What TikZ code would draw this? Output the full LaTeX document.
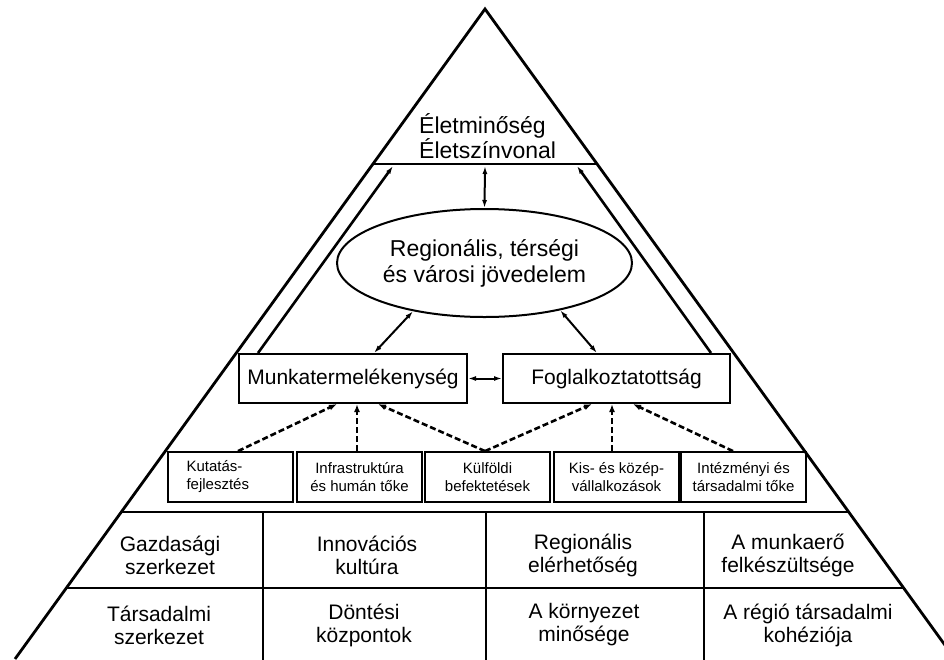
\documentclass[tikz,border=0pt]{standalone}
\usepackage{fontspec}
\setmainfont{Liberation Sans}
\usetikzlibrary{arrows.meta,shapes.geometric}
\begin{document}
\begin{tikzpicture}[x=1pt,y=-1pt,
  frame/.style={line width=2.8pt},
  bigbox/.style={draw,line width=2pt,inner sep=0pt,minimum height=49pt,font=\fontsize{21}{24}\selectfont},
  smallbox/.style={draw,line width=1.8pt,inner sep=0pt,minimum width=125pt,minimum height=50pt,align=center,font=\fontsize{15}{18}\selectfont},
  cell/.style={inner sep=0pt,align=center,font=\fontsize{21}{23}\selectfont},
  link/.style={line width=2pt,{Latex[length=8pt,width=5pt]}-{Latex[length=8pt,width=5pt]}},
  uplink/.style={line width=2.6pt,-{Latex[length=8pt,width=5pt]}},
  dlink/.style={line width=2.6pt,dash pattern=on 6pt off 3pt,-{Latex[length=8pt,width=6pt]}}
]
\useasboundingbox (0,0) rectangle (944,659);
\fill[white] (0,0) rectangle (944,659);
\begin{scope}
\clip (0,0) rectangle (944,659);
\begin{scope}
\clip (15,659) -- (485,9) -- (955,659) -- cycle;
\draw[frame] (0,164) -- (944,164);
\draw[frame] (0,512) -- (944,512);
\draw[frame] (0,588) -- (944,588);
\end{scope}
\draw[frame] (263,512) -- (263,662);
\draw[frame] (486,512) -- (486,662);
\draw[frame] (704,512) -- (704,662);
\draw[frame,line join=miter] (15,659) -- (485,9) -- (955,659);
\end{scope}

\node[inner sep=0pt,align=left,anchor=west,font=\fontsize{23}{23.5}\selectfont] (top) at (419,136) {Életminőség\\Életszínvonal};

\node[draw,ellipse,line width=2pt,minimum width=295pt,minimum height=108pt,inner sep=0pt,align=center,font=\fontsize{23}{26}\selectfont] (ell) at (484.5,263) {Regionális, térségi\\és városi jövedelem};

\node[bigbox,minimum width=228pt] (mbox) at (353,378.5) {Munkatermelékenység};
\node[bigbox,minimum width=227pt] (fbox) at (616.5,378.5) {Foglalkoztatottság};

\node[smallbox,align=left,text width=88pt] (k1) at (230.5,477) {Kutatás-\\fejlesztés};
\node[smallbox] (k2) at (359.5,477) {Infrastruktúra\\és humán tőke};
\node[smallbox] (k3) at (487.5,477) {Külföldi\\befektetések};
\node[smallbox] (k4) at (616.5,477) {Kis- és közép-\\vállalkozások};
\node[smallbox] (k5) at (743.5,477) {Intézményi és\\társadalmi tőke};

\node[cell] (g1) at (170,555) {Gazdasági\\szerkezet};
\node[cell] (g2) at (367,555) {Innovációs\\kultúra};
\node[cell] (g3) at (583,555) {Regionális\\elérhetőség};
\node[cell] (g4) at (788,555) {A munkaerő\\felkészültsége};
\node[cell] (h1) at (159,625) {Társadalmi\\szerkezet};
\node[cell] (h2) at (364,625) {Döntési\\központok};
\node[cell] (h3) at (584,625) {A környezet\\minősége};
\node[cell] (h4) at (808,625) {A régió társadalmi\\kohéziója};

\coordinate (tl) at (393,166);
\coordinate (tm) at (485,166);
\coordinate (tr) at (577,166);

\draw[link] (tm) -- (ell.north);
\draw[link] (ell.214.4) -- ([xshift=21pt]mbox.north);
\draw[link] (ell.328.1) -- ([xshift=-19.5pt]fbox.north);
\draw[link] (mbox.east) -- (fbox.west);
\draw[uplink] ([xshift=20pt]mbox.north west) -- (tl);
\draw[uplink] ([xshift=-20pt]fbox.north east) -- (tr);

\draw[dlink] ([xshift=7.5pt]k1.north) -- ([xshift=-16pt]mbox.south);
\draw[dlink] ([xshift=-2.5pt]k2.north) -- ([xshift=4pt]mbox.south);
\draw[dlink] ([xshift=-2.5pt]k3.north) -- ([xshift=25pt]mbox.south);
\draw[dlink] ([xshift=-2.5pt]k3.north) -- ([xshift=-24.5pt]fbox.south);
\draw[dlink] ([xshift=-4.5pt]k4.north) -- ([xshift=-4.5pt]fbox.south);
\draw[dlink] ([xshift=-10.5pt]k5.north) -- ([xshift=16.5pt]fbox.south);
\end{tikzpicture}
\end{document}
